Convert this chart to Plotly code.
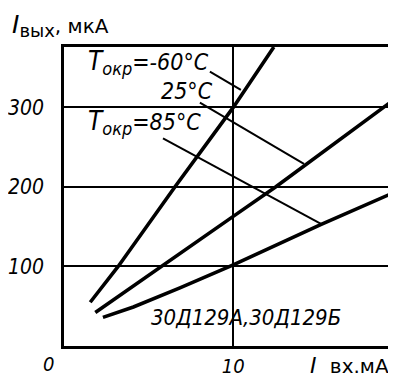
import plotly.graph_objects as go

# ---- data ----
x_m60 = [1.55, 3.2, 6.55, 10.0, 12.4]
y_m60 = [55, 100, 200, 300, 376]

x_25 = [1.85, 5.8, 10.0, 12.5, 19.2]
y_25 = [42, 100, 163, 200, 305]

x_85 = [2.3, 4.1, 6.85, 10.0, 15.2, 19.5]
y_85 = [36, 49, 73, 102, 153, 193]

# pointer (leader) lines from labels to curves
lead_m60_x = [8.62, 10.45]
lead_m60_y = [345, 322]
lead_25_x = [8.03, 14.18]
lead_25_y = [306, 229]
lead_85_x = [5.85, 15.24]
lead_85_y = [261, 153]

y_ticks = [100, 200, 300]
y_tick_text = ["100", "200", "300"]
x_ticks = [10]
x_tick_text = ["10"]

FONT = "DejaVu Sans Condensed, Liberation Sans Narrow, DejaVu Sans, sans-serif"
WIDE = "DejaVu Sans, sans-serif"

# the page body has a default 8px margin: compensate so the chart lands
# where it sits in the reference window
OFF = 8
# plot area in window pixels
L, R, T, B = 64, 394, 47.3, 346.5
W, H = 396, 379


def px(x):
    return (x - L) / (R - L)


def py(y):
    return (B - y) / (B - T)


fig = go.Figure()
for xs, ys in [(x_m60, y_m60), (x_25, y_25), (x_85, y_85)]:
    fig.add_trace(go.Scatter(x=xs, y=ys, mode="lines",
                             line=dict(color="black", width=3.6),
                             showlegend=False, hoverinfo="skip"))
for xs, ys in [(lead_m60_x, lead_m60_y), (lead_25_x, lead_25_y), (lead_85_x, lead_85_y)]:
    fig.add_trace(go.Scatter(x=xs, y=ys, mode="lines",
                             line=dict(color="black", width=2),
                             showlegend=False, hoverinfo="skip"))

tick_font = dict(family=FONT, size=21, color="black", style="italic")

fig.update_xaxes(range=[0, 19.5], tickvals=x_ticks, ticktext=x_tick_text,
                 showgrid=True, gridcolor="black", gridwidth=2,
                 showline=True, linecolor="black", linewidth=2.5, mirror=True,
                 zeroline=False, ticks="", tickfont=dict(family=FONT, size=20, color="black", style="italic"),
                 ticklabelstandoff=0, automargin=False)
fig.update_yaxes(range=[0, 376], tickvals=y_ticks, ticktext=y_tick_text,
                 showgrid=True, gridcolor="black", gridwidth=2,
                 showline=True, linecolor="black", linewidth=2.5, mirror=True,
                 zeroline=False, ticks="", tickfont=tick_font,
                 ticklabelstandoff=13, automargin=False)


def ann(text, x, y, size=21, xanchor="left", italic=True, family=FONT):
    fig.add_annotation(text=text, x=px(x), y=py(y), xref="paper", yref="paper",
                       xanchor=xanchor, yanchor="middle", showarrow=False,
                       font=dict(family=family, size=size, color="black",
                                 style="italic" if italic else "normal"))


SUBT = "<span style='font-size:26px'>T</span><sub><span style='font-size:18px'>окр</span></sub>"
ann(SUBT + "=-60°C", 86, 63, size=23)
ann("25°C", 159, 91.5, size=23)
ann(SUBT + "=85°C", 86, 123, size=23)
ann("30Д129А,30Д129Б", 149, 317.5, size=22)
ann("<span style='font-size:25px'><i>I</i></span><sub><span style='font-size:18px'>вых</span></sub>"
    "<span style='font-size:20px'>, мкА</span>", 10, 26, italic=False, family=WIDE)
ann("<span style='font-size:22px'><i>I</i></span>  <span style='font-size:20px'>вх.мА</span>",
    308, 366, italic=False, family=WIDE)
ann("0", 48, 365, xanchor="center", size=20)

fig.update_layout(width=W - OFF, height=H - OFF,
                  margin=dict(l=L - OFF, r=W - R, t=T - OFF, b=H - B),
                  paper_bgcolor="white", plot_bgcolor="white")

fig.write_html("out.html")
